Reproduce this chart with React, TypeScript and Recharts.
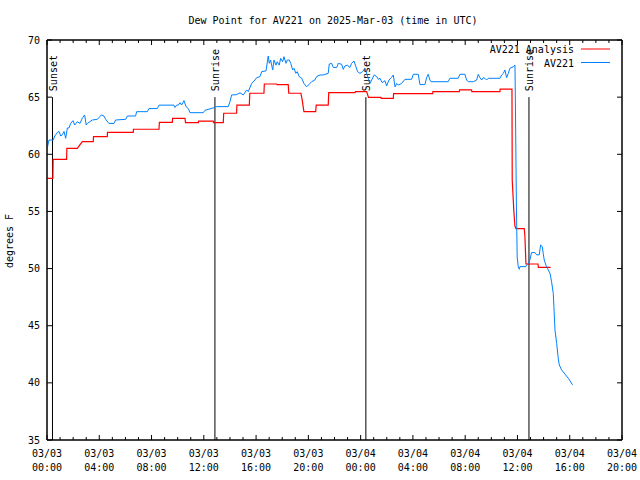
import React from 'react';
import { LineChart, Line, XAxis, YAxis, ReferenceLine, ReferenceArea } from 'recharts';

const FONT = '"DejaVu Sans Mono", "Liberation Mono", monospace';

// x axis is hours since 03/03 00:00 UTC
const xTickDates = ['03/03', '03/03', '03/03', '03/03', '03/03', '03/03', '03/04', '03/04', '03/04', '03/04', '03/04', '03/04'];
const xTickTimes = ['00:00', '04:00', '08:00', '12:00', '16:00', '20:00', '00:00', '04:00', '08:00', '12:00', '16:00', '20:00'];
const yTicks = [35, 40, 45, 50, 55, 60, 65, 70];

const analysisHours = [
  0, 0.45, 0.47, 1.5, 1.52, 2.32, 2.7, 3.54, 3.56, 4.61, 4.63, 6.6, 6.62, 8.57, 8.6, 9.59, 9.61,
  10.56, 10.6, 11.58, 11.6, 12.72, 12.74, 13.49, 13.52, 14.51, 14.53, 15.48, 15.52, 16.6, 16.63,
  17.57, 17.6, 18.46, 18.5, 19.43, 19.52, 19.66, 20.56, 20.6, 21.52, 21.56, 23.57, 23.6, 24.46,
  24.6, 25.55, 25.57, 26.5, 26.52, 29.51, 29.53, 31.55, 31.57, 32.49, 32.51, 34.66, 34.68, 35.58,
  35.6, 35.73, 35.81, 35.89, 36.52, 36.57, 36.65, 37.57, 37.6, 38.54,
];
const analysisDew = [
  57.9, 57.9, 59.56, 59.56, 60.52, 60.52, 61.1, 61.1, 61.54, 61.54, 61.92, 61.92, 62.19, 62.19, 62.8, 62.8, 63.15,
  63.15, 62.77, 62.77, 62.91, 62.91, 62.77, 62.77, 63.59, 63.59, 64.31, 64.31, 65.34, 65.34, 66.15,
  66.15, 66.1, 66.1, 65.34, 65.34, 64.8, 63.73, 63.73, 64.31, 64.31, 65.4, 65.4, 65.48, 65.48,
  64.98, 64.98, 64.9, 64.9, 65.3, 65.3, 65.48, 65.48, 65.63, 65.63, 65.48, 65.48, 65.71, 65.71,
  57.75, 54.9, 53.7, 53.5, 53.5, 52.8, 50.4, 50.4, 50.1, 50.1,
];

const obsHours = [
  0, 0.15, 0.48, 0.59, 0.79, 0.92, 1.05, 1.17, 1.3, 1.43, 1.56, 1.68, 1.81, 1.99, 2.12, 2.32, 2.52,
  2.7, 2.88, 3.0, 3.09, 3.47, 3.85, 4.16, 4.36, 4.49, 4.74, 5.13, 5.25, 6.02, 6.15, 6.78, 6.86,
  7.68, 7.8, 8.44, 8.57, 9.72, 9.8, 9.92, 10.05, 10.18, 10.3, 10.48, 10.64, 10.81, 10.94, 11.96,
  12.09, 12.7, 12.98, 13.87, 14.0, 14.13, 14.51, 14.77, 15.02, 15.28, 15.4, 15.66, 15.91, 16.04,
  16.3, 16.43, 16.76, 16.93, 17.01, 17.11, 17.27, 17.37, 17.52, 17.62, 17.77, 17.88, 18.03, 18.13,
  18.29, 18.39, 18.54, 18.65, 18.8, 18.9, 19.05, 19.15, 19.3, 19.49, 19.66, 19.87, 20.12, 20.25,
  20.5, 20.63, 20.89, 21.14, 21.52, 21.6, 21.78, 21.9, 22.17, 22.29, 22.55, 22.67, 22.8, 22.98,
  23.18, 23.31, 23.49, 23.64, 23.77, 23.95, 24.15, 24.33, 24.6, 24.71, 24.84, 25.04, 25.23, 25.35,
  25.48, 25.65, 25.86, 25.99, 26.17, 26.37, 26.5, 26.63, 26.76, 26.88, 27.14, 27.39, 27.9, 28.03,
  28.41, 28.54, 28.92, 29.05, 29.17, 29.3, 29.38, 30.7, 30.83, 31.47, 31.6, 31.98, 32.11, 32.24,
  32.62, 32.88, 33.0, 33.13, 33.26, 33.38, 33.51, 33.64, 33.76, 34.66, 34.79, 34.92, 35.04, 35.17,
  35.3, 35.42, 35.68, 35.81, 35.85, 35.92, 35.98, 36.06, 36.14, 36.19, 36.65, 36.7, 36.83, 36.95,
  37.08, 37.34, 37.47, 37.67, 37.77, 37.9, 37.97, 38.05, 38.18, 38.36, 38.49, 38.61, 38.74, 38.79,
  38.87, 39.0, 39.12, 39.2, 39.38, 39.63, 39.89, 40.22,
];
const obsDew = [
  60.44, 61.25, 61.25, 61.6, 61.9, 62.0, 61.6, 61.7, 62.0, 61.4, 62.3, 62.3, 62.7, 62.94, 62.56, 62.85, 62.7,
  63.15, 63.44, 62.56, 62.7, 63.0, 63.06, 63.44, 63.35, 63.06, 62.7, 62.7, 63.0, 63.06, 63.35, 63.35, 63.73,
  63.73, 64.0, 64.0, 64.3, 64.3, 64.1, 64.3, 64.31, 64.52, 64.31, 64.7, 64.17, 64.0, 63.64, 63.64,
  63.85, 64.05, 64.17, 64.17, 64.6, 65.19, 65.22, 65.38, 65.19, 65.63, 65.48, 66.2, 66.5, 66.7,
  66.8, 67.23, 67.3, 68.6, 67.96, 68.25, 67.38, 68.25, 67.8, 68.1, 67.8, 68.4, 68.1, 68.54,
  67.96, 68.25, 68.25, 67.96, 67.38, 67.52, 67.08, 67.23, 66.8, 66.65, 66.2, 65.9, 66.2, 66.35,
  66.5, 66.8, 66.94, 66.94, 67.08, 67.9, 67.96, 67.6, 67.6, 67.96, 67.87, 67.43, 67.73, 67.8,
  67.6, 67.96, 68.16, 67.66, 67.23, 67.08, 67.23, 67.52, 66.6, 66.2, 66.5, 66.94, 66.8, 66.56,
  66.65, 66.27, 66.44, 65.98, 66.5, 66.73, 66.94, 65.9, 66.2, 66.06, 66.2, 66.56, 66.56, 67.0,
  67.0, 66.1, 66.1, 66.7, 67.0, 66.5, 66.35, 66.35, 66.65, 66.65, 67.0, 67.0, 66.5, 66.35,
  66.35, 66.5, 67.0, 66.7, 66.5, 66.7, 66.65, 66.5, 66.65, 66.65, 66.94, 67.08, 67.38, 66.7,
  67.08, 67.52, 67.66, 67.8, 63.7, 55.4, 51.0, 50.17, 49.94, 50.17, 50.17, 50.3, 50.46, 50.75,
  51.4, 51.4, 51.2, 51.2, 52.06, 51.92, 51.34, 50.75, 50.3, 49.88, 49.59, 48.85, 47.83, 46.67,
  44.63, 43.46, 42.15, 41.57, 41.13, 40.78, 40.4, 39.82,
];

const sunLabels = ['Sunset', 'Sunrise', 'Sunset', 'Sunrise'];
const sunHours = [0.42, 12.85, 24.4, 36.88];
const sunTop = 65;

const analysisData = analysisHours.map((h, i) => ({ hour: h, dew: analysisDew[i] }));
const obsData = obsHours.map((h, i) => ({ hour: h, dew: obsDew[i] }));
const hourTicks = Array.from({ length: 45 }, (_, i) => i);

function BottomTick({ x, y, payload }: any) {
  const h = payload.value;
  const major = h % 4 === 0;
  const i = h / 4;
  return (
    <g>
      <line x1={x} x2={x} y1={y} y2={y - (major ? 5 : 3)} stroke="#000" />
      {major && (
        <text textAnchor="middle" fontFamily={FONT} fontSize={10} fill="#000">
          <tspan x={x} y={y + 17}>{xTickDates[i]}</tspan>
          <tspan x={x} y={y + 31}>{xTickTimes[i]}</tspan>
        </text>
      )}
    </g>
  );
}

function TopTick({ x, y, payload }: any) {
  const major = payload.value % 4 === 0;
  return <line x1={x} x2={x} y1={y} y2={y + (major ? 5 : 3)} stroke="#000" />;
}

function LeftTick({ x, y, payload }: any) {
  return (
    <g>
      <line x1={x} x2={x + 5} y1={y} y2={y} stroke="#000" />
      <text x={x - 7} y={y + 3.5} textAnchor="end" fontFamily={FONT} fontSize={10} fill="#000">
        {payload.value}
      </text>
    </g>
  );
}

function RightTick({ x, y }: any) {
  return <line x1={x} x2={x - 5} y1={y} y2={y} stroke="#000" />;
}

function SunLabel({ viewBox, text }: any) {
  const x = viewBox.x + 4.5;
  const y = viewBox.y - 6;
  return (
    <text x={x} y={y} transform={`rotate(-90 ${x} ${y})`} fontFamily={FONT} fontSize={10} fill="#000">
      {text}
    </text>
  );
}

export default function App() {
  return (
    <div style={{ position: 'absolute', left: 0, top: 0, width: 640, height: 480, background: '#fff' }}>
      <LineChart width={640} height={480} margin={{ top: 39, right: 17, bottom: 0, left: 0 }}>
        <XAxis
          dataKey="hour"
          type="number"
          domain={[0, 44]}
          ticks={hourTicks}
          interval={0}
          height={40}
          tickSize={0}
          tickMargin={0}
          tickLine={false}
          axisLine={{ stroke: '#000' }}
          tick={<BottomTick />}
          allowDataOverflow
        />
        <XAxis
          xAxisId="top"
          orientation="top"
          dataKey="hour"
          type="number"
          domain={[0, 44]}
          ticks={hourTicks}
          interval={0}
          height={1}
          tickSize={0}
          tickMargin={0}
          tickLine={false}
          axisLine={{ stroke: '#000' }}
          tick={<TopTick />}
          allowDataOverflow
        />
        <YAxis
          type="number"
          domain={[35, 70]}
          ticks={yTicks}
          interval={0}
          width={47}
          tickSize={0}
          tickMargin={0}
          tickLine={false}
          axisLine={{ stroke: '#000' }}
          tick={<LeftTick />}
          allowDataOverflow
        />
        <YAxis
          yAxisId="right"
          orientation="right"
          type="number"
          domain={[35, 70]}
          ticks={yTicks}
          interval={0}
          width={1}
          tickSize={0}
          tickMargin={0}
          tickLine={false}
          axisLine={{ stroke: '#000' }}
          tick={<RightTick />}
          allowDataOverflow
        />
        {/* plot frame */}
        <ReferenceArea x1={0} x2={44} y1={35} y2={70} fill="none" stroke="#000" strokeWidth={1} />
        {sunHours.map((h, i) => (
          <ReferenceLine
            key={i}
            segment={[{ x: h, y: 35 }, { x: h, y: sunTop }]}
            stroke="#000"
            strokeWidth={1}
            label={(p: any) => <SunLabel {...p} text={sunLabels[i]} />}
          />
        ))}
        <Line
          data={analysisData}
          dataKey="dew"
          type="linear"
          stroke="#ff0000"
          strokeWidth={1.2}
          dot={false}
          isAnimationActive={false}
        />
        <Line
          data={obsData}
          dataKey="dew"
          type="linear"
          stroke="#0080ff"
          strokeWidth={1}
          dot={false}
          isAnimationActive={false}
        />
      </LineChart>
      <svg width={640} height={480} style={{ position: 'absolute', left: 0, top: 0, pointerEvents: 'none' }}>
        <text x={333} y={23.5} textAnchor="middle" fontFamily={FONT} fontSize={10} fill="#000">
          Dew Point for AV221 on 2025-Mar-03 (time in UTC)
        </text>
        <text x={13} y={241} transform="rotate(-90 13 241)" textAnchor="middle" fontFamily={FONT} fontSize={10} fill="#000">
          degrees F
        </text>
        <text x={574} y={53} textAnchor="end" fontFamily={FONT} fontSize={10} fill="#000">AV221 Analysis</text>
        <line x1={581} x2={610} y1={49} y2={49} stroke="#ff0000" />
        <text x={574} y={66.5} textAnchor="end" fontFamily={FONT} fontSize={10} fill="#000">AV221</text>
        <line x1={581} x2={610} y1={62.5} y2={62.5} stroke="#0080ff" />
      </svg>
    </div>
  );
}
